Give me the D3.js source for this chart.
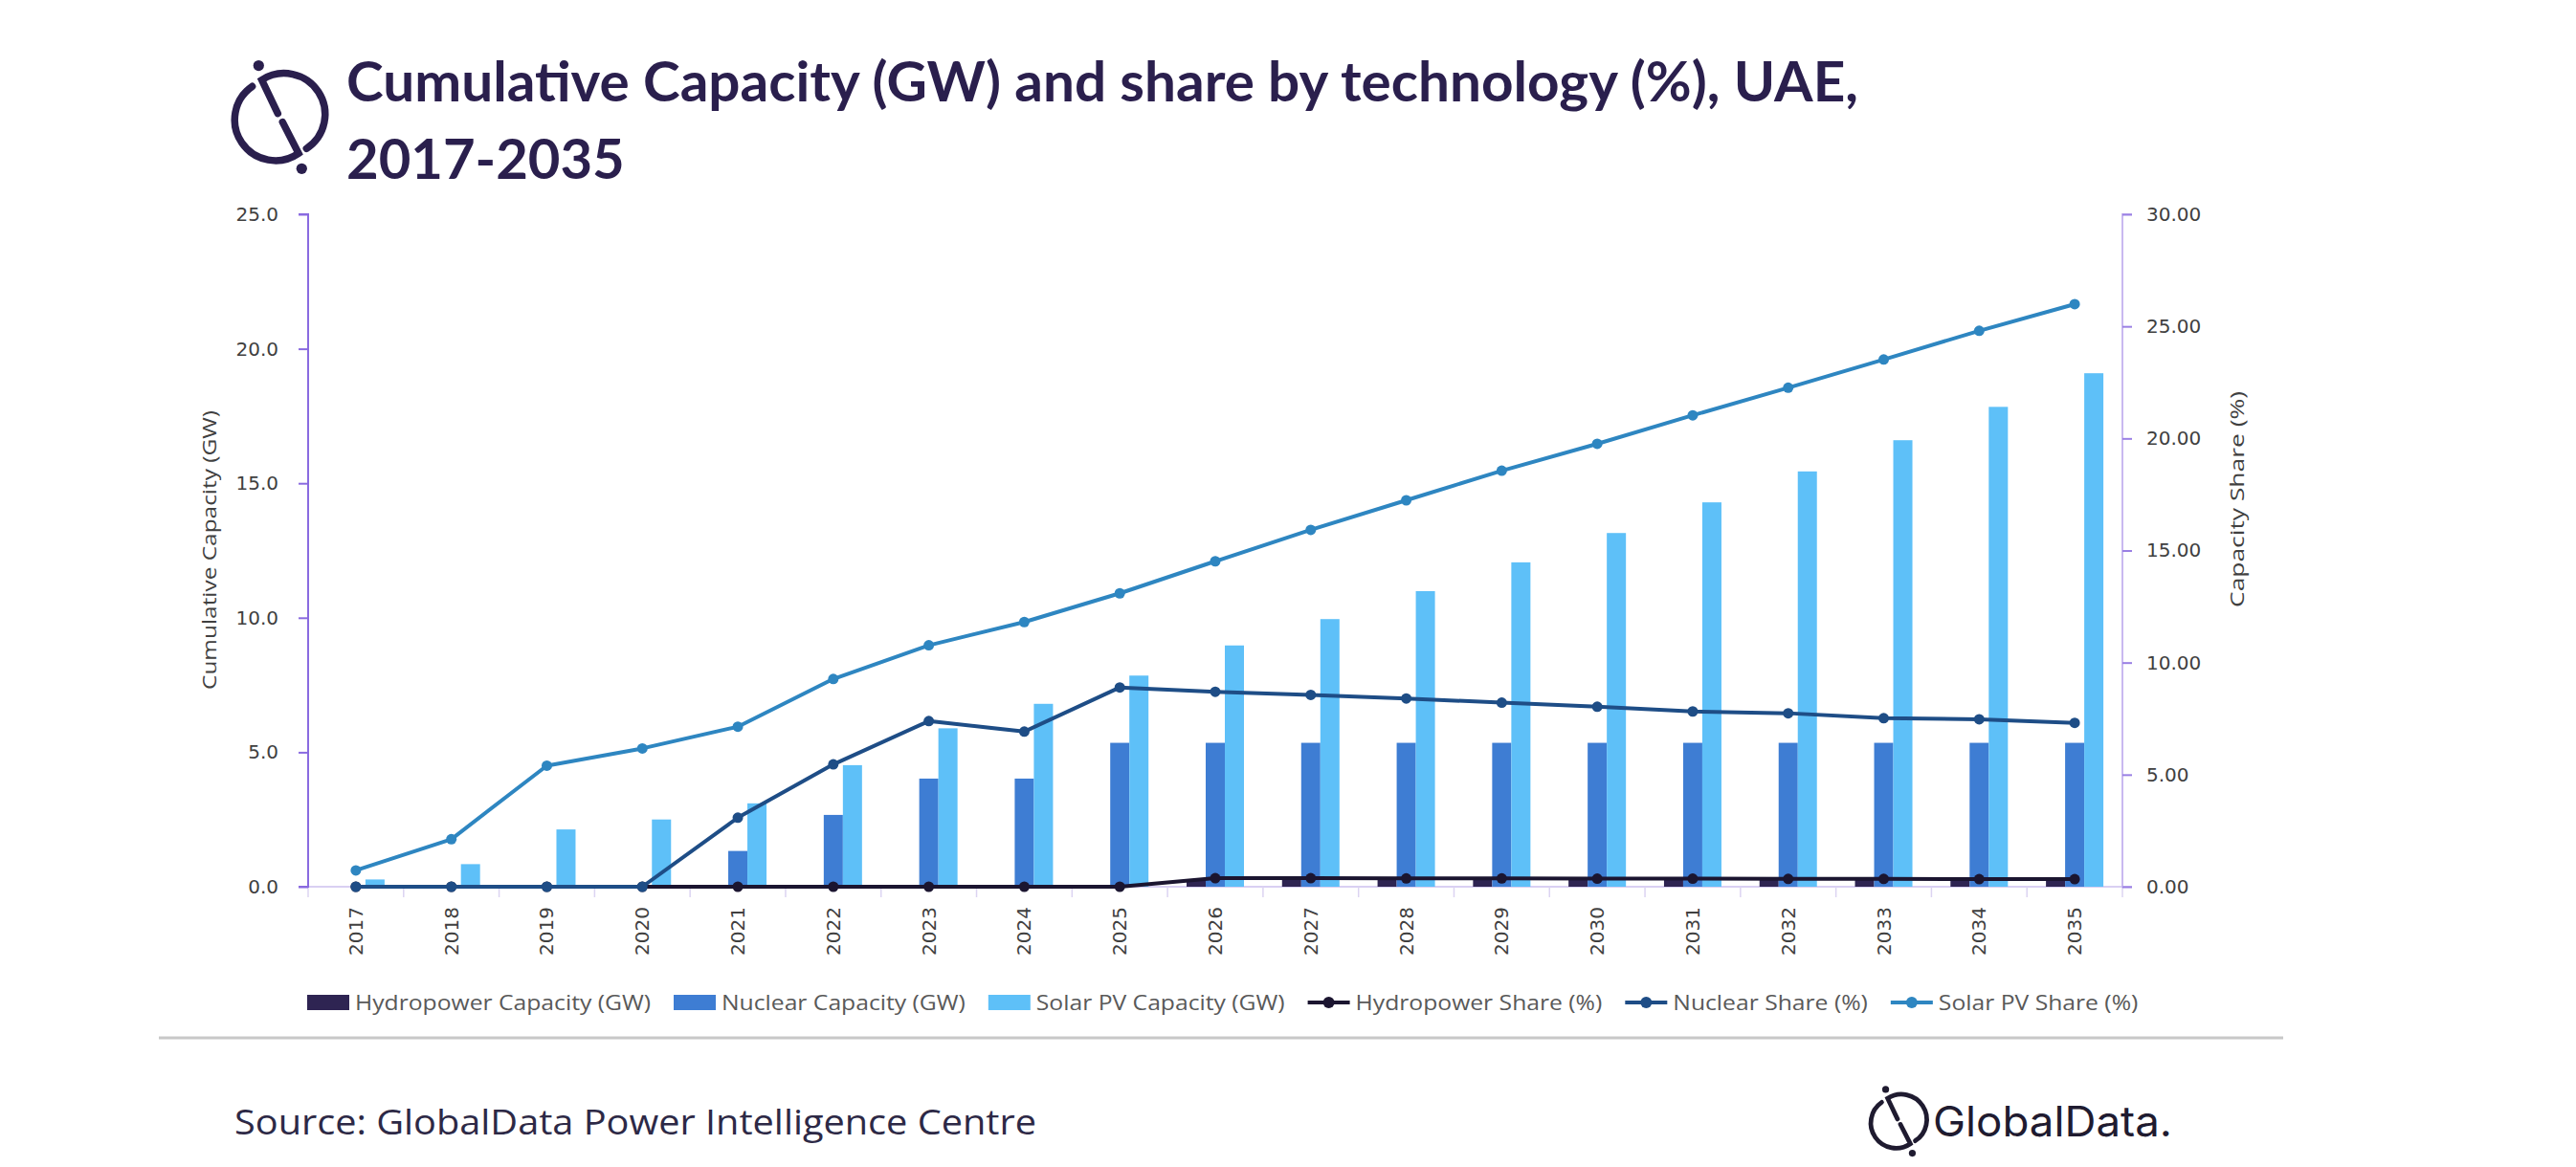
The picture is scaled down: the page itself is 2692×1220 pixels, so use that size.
<!DOCTYPE html>
<html>
<head>
<meta charset="utf-8">
<script src="https://cdn.jsdelivr.net/npm/d3@7"></script>
<style>
  body { margin: 0; background: #fff; }
  svg { display: block; }
</style>
</head>
<body>
<div id="chart"></div>
<script>
// ---- data ----
const years = ['2017', '2018', '2019', '2020', '2021', '2022', '2023', '2024', '2025', '2026',
  '2027', '2028', '2029', '2030', '2031', '2032', '2033', '2034', '2035'];

// capacity, GW (left axis)
const hydroCap = [0, 0, 0, 0, 0, 0, 0, 0, 0, 0.25, 0.25, 0.25, 0.25, 0.25, 0.25, 0.25, 0.25, 0.25, 0.25];
const nuclearCap = [0, 0, 0, 0, 1.33, 2.67, 4.02, 4.02, 5.35, 5.35, 5.35, 5.35, 5.35, 5.35, 5.35, 5.35, 5.35, 5.35, 5.35];
const solarCap = [0.27, 0.84, 2.13, 2.50, 3.10, 4.52, 5.89, 6.80, 7.85, 8.97, 9.95, 10.99, 12.06, 13.15, 14.29, 15.44, 16.60, 17.84, 19.09];

// share, % (right axis)
const hydroShare = [0, 0, 0, 0, 0, 0, 0, 0, 0, 0.38, 0.38, 0.37, 0.37, 0.36, 0.36, 0.35, 0.35, 0.34, 0.34];
const nuclearShare = [0, 0, 0, 0, 3.08, 5.46, 7.39, 6.92, 8.89, 8.70, 8.56, 8.40, 8.21, 8.03, 7.82, 7.74, 7.52, 7.47, 7.31];
const solarShare = [0.73, 2.12, 5.40, 6.17, 7.14, 9.27, 10.77, 11.81, 13.09, 14.52, 15.92, 17.24, 18.56, 19.76, 21.03, 22.26, 23.52, 24.80, 25.99];

const leftTicks = [0, 5, 10, 15, 20, 25];
const rightTicks = [0, 5, 10, 15, 20, 25, 30];

const capSeries = [
  { name: 'Hydropower Capacity (GW)', values: hydroCap, color: '#2e2452' },
  { name: 'Nuclear Capacity (GW)', values: nuclearCap, color: '#3e7dd3' },
  { name: 'Solar PV Capacity (GW)', values: solarCap, color: '#5ec0f8' }
];
const shareSeries = [
  { name: 'Hydropower Share (%)', values: hydroShare, color: '#1b1530' },
  { name: 'Nuclear Share (%)', values: nuclearShare, color: '#1e4d86' },
  { name: 'Solar PV Share (%)', values: solarShare, color: '#2e86c1' }
];

// ---- layout ----
const W = 2692, H = 1220;
const plotLeft = 322, plotRight = 2218, plotTop = 224, plotBottom = 927;
const titleColor = '#2a1f4d';
const textColor = '#404040';

const svg = d3.select('#chart').append('svg')
  .attr('width', W)
  .attr('height', H);

function fit(sel, w) {
  sel.attr('textLength', w).attr('lengthAdjust', 'spacingAndGlyphs');
}

// GlobalData style icon, drawn around (cx, cy) with radius r
function drawIcon(g, cx, cy, r, sw, color) {
  let k = r / 42;
  let p = (a, b) => [cx + a * k, cy + b * k];
  let A = p(-28.4, -31.7), B = p(20, 38.3), C = p(3.3, 5.6),
      D = p(-1.7, -3.4), E = p(-18.4, -38.4), F = p(28.3, 33.3);
  let rr = 42 * k;
  g.append('path')
    .attr('d', `M${A}A${rr},${rr} 0 0 0 ${B}L${C}`)
    .attr('fill', 'none').attr('stroke', color).attr('stroke-width', sw).attr('stroke-linecap', 'round');
  g.append('path')
    .attr('d', `M${D}L${E}A${rr},${rr} 0 0 1 ${F}`)
    .attr('fill', 'none').attr('stroke', color).attr('stroke-width', sw).attr('stroke-linecap', 'round');
  g.append('circle').attr('cx', p(-21.7, -53.4)[0]).attr('cy', p(-21.7, -53.4)[1]).attr('r', sw * 0.75).attr('fill', color);
  g.append('circle').attr('cx', p(23.3, 54.3)[0]).attr('cy', p(23.3, 54.3)[1]).attr('r', sw * 0.75).attr('fill', color);
}

// * TITLE * //
drawIcon(svg.append('g'), 292, 122, 42, 7.5, titleColor);

let t1 = svg.append('text')
  .attr('x', 362).attr('y', 106)
  .style('font-family', 'Lato, sans-serif').style('font-weight', 700)
  .style('font-size', '58px').attr('fill', titleColor)
  .text('Cumulative Capacity (GW) and share by technology (%), UAE,');
fit(t1, 1580);

svg.append('text')
  .attr('x', 362).attr('y', 187)
  .style('font-family', 'Lato, sans-serif').style('font-weight', 700)
  .style('font-size', '58px').attr('fill', titleColor)
  .text('2017-2035');

// * SCALES * //
const x = d3.scaleBand().domain(years).range([plotLeft, plotRight]);
const groupW = 60;
const xSub = d3.scaleBand().domain(d3.range(capSeries.length)).range([-groupW / 2, groupW / 2]);
const yL = d3.scaleLinear().domain([0, 25]).range([plotBottom, plotTop]);
const yR = d3.scaleLinear().domain([0, 30]).range([plotBottom, plotTop]);
const cx = (d) => x(d) + x.bandwidth() / 2;

// * X AXIS * //
const xAxisG = svg.append('g')
  .attr('transform', `translate(0,${plotBottom})`)
  .call(d3.axisBottom(x).tickSize(0));
xAxisG.select('.domain').remove();
xAxisG.append('line')
  .attr('x1', plotLeft - 8).attr('x2', plotRight)
  .attr('stroke', '#d9d0f2').attr('stroke-width', 2);
xAxisG.selectAll('.tick text')
  .attr('y', 0).attr('x', -21).attr('dy', '0.35em')
  .attr('transform', 'rotate(-90)')
  .style('text-anchor', 'end')
  .style('font-family', '"DejaVu Sans", Verdana, sans-serif')
  .style('font-size', '20px')
  .attr('fill', textColor);

// category separators
let bounds = years.map((d) => x(d)).concat([plotRight]);
xAxisG.selectAll('.sep')
  .data(bounds)
  .enter()
  .append('line')
  .attr('class', 'sep')
  .attr('x1', (d) => d).attr('x2', (d) => d)
  .attr('y1', 0).attr('y2', 11)
  .attr('stroke', '#dcd4f2').attr('stroke-width', 1.5);

// * LEFT AXIS * //
const yLG = svg.append('g')
  .attr('transform', `translate(${plotLeft},0)`)
  .call(d3.axisLeft(yL).tickValues(leftTicks).tickFormat(d3.format('.1f')).tickSize(10).tickPadding(21));
yLG.select('.domain').attr('stroke', '#8a6be0').attr('stroke-width', 2).attr('d', `M-10,${plotTop}H0V${plotBottom}H-10`);
yLG.selectAll('.tick line').attr('stroke', '#8a6be0').attr('stroke-width', 2);
yLG.selectAll('.tick text')
  .style('font-family', '"DejaVu Sans", Verdana, sans-serif')
  .style('font-size', '20px')
  .attr('fill', textColor);

let ylt = svg.append('text')
  .attr('transform', `translate(226,575) rotate(-90)`)
  .attr('text-anchor', 'middle')
  .style('font-family', '"Open Sans", sans-serif').style('font-size', '20px')
  .attr('fill', textColor)
  .text('Cumulative Capacity (GW)');
fit(ylt, 292);

// * RIGHT AXIS * //
const yRG = svg.append('g')
  .attr('transform', `translate(${plotRight},0)`)
  .call(d3.axisRight(yR).tickValues(rightTicks).tickFormat(d3.format('.2f')).tickSize(10).tickPadding(15));
yRG.select('.domain').attr('stroke', '#c9b9f0').attr('stroke-width', 2).attr('d', `M10,${plotTop}H0V${plotBottom}H10`);
yRG.selectAll('.tick line').attr('stroke', '#9a80e4').attr('stroke-width', 2);
yRG.selectAll('.tick text')
  .style('font-family', '"DejaVu Sans", Verdana, sans-serif')
  .style('font-size', '20px')
  .attr('fill', textColor);

let yrt = svg.append('text')
  .attr('transform', `translate(2345,522) rotate(-90)`)
  .attr('text-anchor', 'middle')
  .style('font-family', '"Open Sans", sans-serif').style('font-size', '20px')
  .attr('fill', textColor)
  .text('Capacity Share (%)');
fit(yrt, 226);

// * BARS * //
capSeries.forEach((s, si) => {
  svg.append('g')
    .selectAll('rect')
    .data(years.map((y, i) => ({ year: y, v: s.values[i] })))
    .enter()
    .append('rect')
    .attr('x', (d) => cx(d.year) + xSub(si))
    .attr('width', xSub.bandwidth())
    .attr('y', (d) => yL(d.v))
    .attr('height', (d) => yL(0) - yL(d.v))
    .attr('fill', s.color);
});

// * LINES * //
shareSeries.forEach((s) => {
  let pts = years.map((y, i) => ({ year: y, v: s.values[i] }));
  let line = d3.line().x((d) => cx(d.year)).y((d) => yR(d.v));
  let g = svg.append('g');
  g.append('path')
    .datum(pts)
    .attr('d', line)
    .attr('fill', 'none')
    .attr('stroke', s.color)
    .attr('stroke-width', 4)
    .attr('stroke-linejoin', 'round');
  g.selectAll('circle')
    .data(pts)
    .enter()
    .append('circle')
    .attr('cx', (d) => cx(d.year))
    .attr('cy', (d) => yR(d.v))
    .attr('r', 5.5)
    .attr('fill', s.color);
});

// * LEGEND * //
const legY = 1048;
const leg = svg.append('g');
let legItems = capSeries.map((s) => ({ ...s, kind: 'box' }))
  .concat(shareSeries.map((s) => ({ ...s, kind: 'line' })));

let lx = 321;
let legScale = null;
legItems.forEach((it) => {
  if (it.kind === 'box') {
    leg.append('rect')
      .attr('x', lx).attr('y', legY - 8)
      .attr('width', 44).attr('height', 16)
      .attr('fill', it.color);
  } else {
    leg.append('line')
      .attr('x1', lx).attr('x2', lx + 44)
      .attr('y1', legY).attr('y2', legY)
      .attr('stroke', it.color).attr('stroke-width', 4);
    leg.append('circle')
      .attr('cx', lx + 22).attr('cy', legY).attr('r', 6)
      .attr('fill', it.color);
  }
  let tx = leg.append('text')
    .attr('x', lx + 50).attr('y', legY + 8)
    .style('font-family', '"Open Sans", sans-serif').style('font-size', '22px')
    .attr('fill', '#595959')
    .text(it.name);
  let natural = tx.node().getComputedTextLength();
  if (legScale === null) legScale = 309 / natural;
  let w = natural * legScale;
  fit(tx, w);
  lx = lx + 50 + w + 24;
});

// separator
svg.append('line')
  .attr('x1', 166).attr('x2', 2386)
  .attr('y1', 1085).attr('y2', 1085)
  .attr('stroke', '#c8c8c8').attr('stroke-width', 3);

// * SOURCE + LOGO * //
let src = svg.append('text')
  .attr('x', 245).attr('y', 1186)
  .style('font-family', '"Open Sans", sans-serif').style('font-size', '36px')
  .attr('fill', '#2d2946')
  .text('Source: GlobalData Power Intelligence Centre');
fit(src, 838);

drawIcon(svg.append('g'), 1984, 1172, 26, 4.8, '#1f1b30');
let logo = svg.append('text')
  .attr('x', 2020).attr('y', 1188)
  .style('font-family', 'Inter, sans-serif').style('font-weight', 400)
  .style('font-size', '44px')
  .attr('fill', '#1f1b30')
  .text('GlobalData.');
fit(logo, 250);
</script>
</body>
</html>
